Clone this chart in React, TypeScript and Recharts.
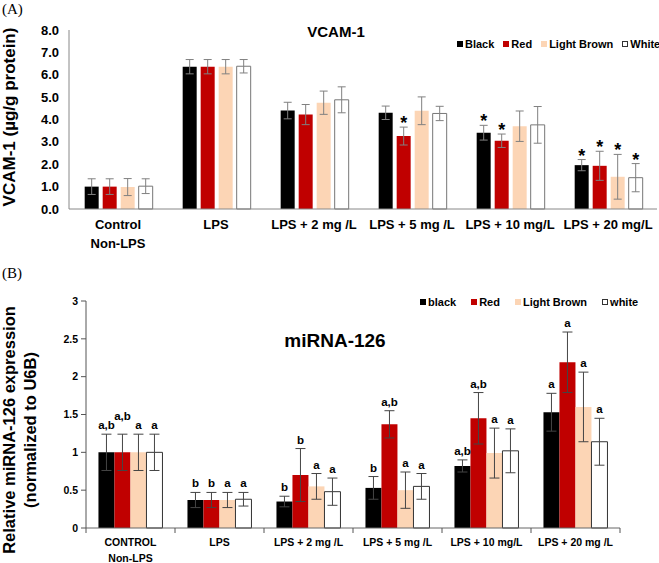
import { BarChart, Bar, XAxis, YAxis, ErrorBar, LabelList, Legend } from "recharts";

const FONT = "'Liberation Sans', Arial, Helvetica, sans-serif";

// ---- panel A: VCAM-1 ----
const categoriesA = ["Control\nNon-LPS", "LPS", "LPS + 2 mg /L", "LPS + 5 mg /L", "LPS + 10 mg/L", "LPS + 20 mg/L"];
const namesA = ["Black", "Red", "Light Brown", "White"];
const blackA = [1.0, 6.36, 4.4, 4.3, 3.41, 1.96];
const blackErrA = [0.35, 0.32, 0.37, 0.3, 0.33, 0.25];
const redA = [1.0, 6.36, 4.22, 3.26, 3.05, 1.93];
const redErrA = [0.35, 0.32, 0.45, 0.4, 0.3, 0.65];
const brownA = [0.98, 6.36, 4.75, 4.39, 3.7, 1.44];
const brownErrA = [0.38, 0.32, 0.52, 0.62, 0.68, 1.0];
const whiteA = [1.02, 6.38, 4.88, 4.27, 3.76, 1.4];
const whiteErrA = [0.33, 0.3, 0.58, 0.32, 0.82, 0.63];
const blackStarA = ["", "", "", "", "*", "*"];
const redStarA = ["", "", "", "*", "*", "*"];
const brownStarA = ["", "", "", "", "", "*"];
const whiteStarA = ["", "", "", "", "", "*"];
const ticksA = [0, 1, 2, 3, 4, 5, 6, 7, 8];

// ---- panel B: miRNA-126 ----
const categoriesB = ["CONTROL\nNon-LPS", "LPS", "LPS + 2 mg /L", "LPS + 5 mg /L", "LPS + 10 mg/L", "LPS + 20 mg /L"];
const namesB = ["black", "Red", "Light Brown", "white"];
const blackB = [1.0, 0.37, 0.35, 0.53, 0.82, 1.53];
const blackErrB = [0.24, 0.1, 0.07, 0.15, 0.08, 0.25];
const redB = [1.0, 0.37, 0.7, 1.37, 1.45, 2.19];
const redErrB = [0.24, 0.1, 0.35, 0.18, 0.34, 0.4];
const brownB = [1.0, 0.37, 0.55, 0.5, 0.99, 1.6];
const brownErrB = [0.24, 0.1, 0.17, 0.24, 0.33, 0.46];
const whiteB = [1.0, 0.38, 0.48, 0.55, 1.02, 1.14];
const whiteErrB = [0.24, 0.09, 0.18, 0.17, 0.29, 0.31];
const blackLetB = ["a,b", "b", "b", "b", "a,b", "a"];
const redLetB = ["a,b", "b", "b", "a,b", "a,b", "a"];
const brownLetB = ["a", "a", "a", "a", "a", "a"];
const whiteLetB = ["a", "a", "a", "a", "a", "a"];
const ticksB = [0, 0.5, 1, 1.5, 2, 2.5, 3];

const COLORS = ["#000000", "#c00000", "#fcd5b5", "#ffffff"];
const KEYS = ["black", "red", "brown", "white"];

const dataA = categoriesA.map((cat, i) => ({
  cat,
  black: blackA[i], blackErr: blackErrA[i],
  red: redA[i], redErr: redErrA[i],
  brown: brownA[i], brownErr: brownErrA[i],
  white: whiteA[i], whiteErr: whiteErrA[i],
}));

const dataB = categoriesB.map((cat, i) => ({
  cat,
  black: blackB[i], blackErr: blackErrB[i],
  red: redB[i], redErr: redErrB[i],
  brown: brownB[i], brownErr: brownErrB[i],
  white: whiteB[i], whiteErr: whiteErrB[i],
}));

const valsA = [blackA, redA, brownA, whiteA];
const errsA = [blackErrA, redErrA, brownErrA, whiteErrA];
const marksA = [blackStarA, redStarA, brownStarA, whiteStarA];
const valsB = [blackB, redB, brownB, whiteB];
const errsB = [blackErrB, redErrB, brownErrB, whiteErrB];
const marksB = [blackLetB, redLetB, brownLetB, whiteLetB];

// text sitting just above the top whisker of an error bar;
// a long label next to another long one at the same height is lifted so they don't collide
const markAbove = (
  vals: number[][], errs: number[][], marks: string[][], s: number, size: number, dy: number,
) =>
  (props: any) => {
    const { x, y, width, height, index } = props;
    const m = marks[s][index];
    if (!m) return null;
    const ppu = height / vals[s][index];
    let top = y - errs[s][index] * ppu;
    if (s > 0 && m.length > 1 && marks[s - 1][index].length > 1) {
      const prevTop = vals[s - 1][index] + errs[s - 1][index];
      const myTop = vals[s][index] + errs[s][index];
      if (Math.abs(prevTop - myTop) * ppu < 10) top -= 9;
    }
    return (
      <text x={x + width / 2} y={top + dy} textAnchor="middle" fontSize={size} fontWeight="bold" fontFamily={FONT} fill="#000">
        {m}
      </text>
    );
  };

const TickA = (props: any) => {
  const { x, y, payload } = props;
  const lines = String(payload.value).split("\n");
  return (
    <g>
      {lines.map((l, i) => (
        <text key={i} x={x} y={y + 20 + i * 19} textAnchor="middle" fontSize={13} fontWeight="bold" fontFamily={FONT} fill="#000">
          {l}
        </text>
      ))}
    </g>
  );
};

const BAND_B = (659 - 86 - 39) / 6;

const TickB = (props: any) => {
  const { x, y, payload, index } = props;
  const lines = String(payload.value).split("\n");
  return (
    <g>
      <line x1={x - BAND_B / 2} x2={x - BAND_B / 2} y1={y} y2={y + 5} stroke="#555" />
      {index === categoriesB.length - 1 && (
        <line x1={x + BAND_B / 2} x2={x + BAND_B / 2} y1={y} y2={y + 5} stroke="#555" />
      )}
      {lines.map((l, i) => (
        <text key={i} x={x} y={y + 18 + i * 16} textAnchor="middle" fontSize={10.5} fontWeight="bold" fontFamily={FONT} fill="#000">
          {l}
        </text>
      ))}
    </g>
  );
};

const legendContent = (names: string[], gap: number) => () => (
  <div style={{ display: "flex", gap, fontFamily: FONT, fontWeight: "bold", fontSize: 11, whiteSpace: "nowrap", alignItems: "center" }}>
    {names.map((n, i) => (
      <span key={n} style={{ display: "flex", alignItems: "center" }}>
        <span
          style={{
            display: "inline-block",
            width: 6,
            height: 6,
            marginRight: 2,
            background: COLORS[i],
            border: i === 3 ? "1px solid #333" : "none",
            boxSizing: "border-box",
          }}
        />
        {n}
      </span>
    ))}
  </div>
);

export default function App() {
  return (
    <div style={{ position: "absolute", left: 0, top: 0, width: 659, height: 563, background: "#fff", fontFamily: FONT }}>
      <div style={{ position: "absolute", left: 2, top: 1, lineHeight: "16px", fontFamily: "'Liberation Serif', 'Times New Roman', serif", fontSize: 15 }}>(A)</div>
      <div style={{ position: "absolute", left: 2, top: 265, lineHeight: "16px", fontFamily: "'Liberation Serif', 'Times New Roman', serif", fontSize: 15 }}>(B)</div>

      <div style={{ position: "absolute", left: 336, top: 31, transform: "translate(-50%,-50%)", fontWeight: "bold", fontSize: 15 }}>VCAM-1</div>
      <div style={{ position: "absolute", left: 335, top: 341, transform: "translate(-50%,-50%)", fontWeight: "bold", fontSize: 19 }}>miRNA-126</div>

      <div
        style={{
          position: "absolute", left: 10, top: 117, transform: "translate(-50%,-50%) rotate(-90deg)",
          fontWeight: "bold", fontSize: 17, whiteSpace: "nowrap",
        }}
      >
        VCAM-1 (µg/g protein)
      </div>
      <div
        style={{
          position: "absolute", left: 20, top: 430, transform: "translate(-50%,-50%) rotate(-90deg)",
          fontWeight: "bold", fontSize: 16.5, whiteSpace: "nowrap", textAlign: "center", lineHeight: "21px",
        }}
      >
        Relative miRNA-126 expression
        <br />
        (normalized to U6B)
      </div>

      <div style={{ position: "absolute", left: 0, top: 0 }}>
        <BarChart width={659} height={265} data={dataA} margin={{ top: 30, right: 2, bottom: 0, left: 0 }} barCategoryGap="16%" barGap={4}>
          <XAxis dataKey="cat" height={56} interval={0} axisLine={{ stroke: "#888" }} tickLine={false} tickSize={0} tickMargin={0} tick={<TickA />} />
          <YAxis
            width={69}
            domain={[0, 8]}
            ticks={ticksA}
            tickFormatter={(v: number) => v.toFixed(1)}
            axisLine={{ stroke: "#888" }}
            tickLine={false}
            tickSize={6}
            tickMargin={4}
            tick={{ fontSize: 13, fontWeight: "bold", fill: "#000", fontFamily: FONT }}
          />
          <Legend
            layout="horizontal"
            verticalAlign="middle"
            align="center"
            wrapperStyle={{ top: 38, left: 457, width: 210 }}
            content={legendContent(namesA, 9)}
          />
          {KEYS.map((k, i) => (
            <Bar
              key={k}
              dataKey={k}
              name={namesA[i]}
              fill={COLORS[i]}
              stroke={i === 3 ? "#777" : "none"}
              isAnimationActive={false}
            >
              <ErrorBar dataKey={k + "Err"} width={4} stroke="#808080" strokeWidth={1} direction="y" />
              <LabelList dataKey={k} content={markAbove(valsA, errsA, marksA, i, 18, 2)} />
            </Bar>
          ))}
        </BarChart>
      </div>

      <div style={{ position: "absolute", left: 0, top: 280 }}>
        <BarChart width={659} height={283} data={dataB} margin={{ top: 21, right: 39, bottom: 0, left: 0 }} barCategoryGap="14%" barGap={0}>
          <XAxis dataKey="cat" height={35} interval={0} axisLine={{ stroke: "#666" }} tickLine={false} tickSize={0} tickMargin={0} tick={<TickB />} />
          <YAxis
            width={86}
            domain={[0, 3]}
            ticks={ticksB}
            axisLine={{ stroke: "#555" }}
            tickLine={{ stroke: "#555" }}
            tickSize={5}
            tickMargin={3}
            tick={{ fontSize: 10.5, fontWeight: "bold", fill: "#000", fontFamily: FONT }}
          />
          <Legend
            layout="horizontal"
            verticalAlign="middle"
            align="center"
            wrapperStyle={{ top: 16, left: 420, width: 230 }}
            content={legendContent(namesB, 15)}
          />
          {KEYS.map((k, i) => (
            <Bar
              key={k}
              dataKey={k}
              name={namesB[i]}
              fill={COLORS[i]}
              stroke={i === 3 ? "#333" : "none"}
              isAnimationActive={false}
            >
              <ErrorBar dataKey={k + "Err"} width={5} stroke="#444" strokeWidth={1} direction="y" />
              <LabelList dataKey={k} content={markAbove(valsB, errsB, marksB, i, 11.5, -5)} />
            </Bar>
          ))}
        </BarChart>
      </div>
    </div>
  );
}
